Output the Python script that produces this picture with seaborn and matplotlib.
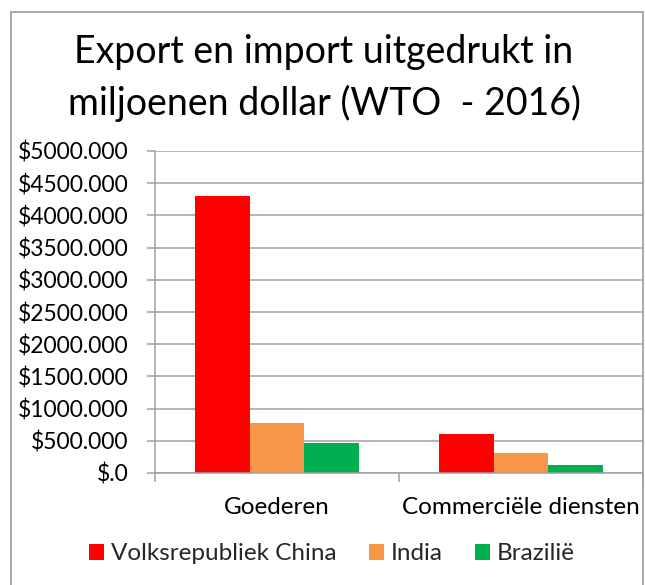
import matplotlib
matplotlib.use("Agg")
import matplotlib.pyplot as plt
from matplotlib.patches import Rectangle
from matplotlib.ticker import FixedLocator
import seaborn as sns
import pandas as pd

# ---- data ----
categories = ["Goederen", "Commerciële diensten"]
countries = ["Volksrepubliek China", "India", "Brazilië"]
china = [4300, 610]
india = [780, 305]
brazil = [460, 125]
colors = ["#FF0000", "#F79646", "#00B050"]
ytick_values = [0, 500, 1000, 1500, 2000, 2500, 3000, 3500, 4000, 4500, 5000]
ytick_labels = ["$.0", "$500.000", "$1000.000", "$1500.000", "$2000.000", "$2500.000",
                "$3000.000", "$3500.000", "$4000.000", "$4500.000", "$5000.000"]
title = "Export en import uitgedrukt in\nmiljoenen dollar (WTO  - 2016)"

rows = []
for name, vals in zip(countries, [china, india, brazil]):
    for c, v in zip(categories, vals):
        rows.append({"categorie": c, "land": name, "waarde": v})
df = pd.DataFrame(rows)

sns.set_theme(style="white")
plt.rcParams["font.family"] = ["Lato", "DejaVu Sans"]

W, H = 645, 585
fig = plt.figure(figsize=(W / 100, H / 100), dpi=100)
ax = fig.add_axes([155 / W, 1 - 473 / H, (643 - 155) / W, (473 - 151) / H])

grid_col = "#A0A0A0"
sns.barplot(data=df, x="categorie", y="waarde", hue="land", hue_order=countries,
            order=categories, palette=colors, width=0.67, ax=ax, saturation=1,
            edgecolor="none", linewidth=0, legend=True)

ax.set_xlim(-0.5, 1.5)
ax.set_ylim(0, 5000)
ax.set_yticks(ytick_values)
ax.set_yticklabels(ytick_labels)
ax.yaxis.grid(True, color=grid_col, linewidth=1.1)
ax.set_axisbelow(True)
ax.set_xlabel("")
ax.set_ylabel("")
for s in ["top", "right"]:
    ax.spines[s].set_visible(False)
for s in ["left", "bottom"]:
    ax.spines[s].set_color(grid_col)
    ax.spines[s].set_linewidth(1.1)

ax.tick_params(axis="y", which="major", length=5.8, width=1.1, color=grid_col,
               pad=13.5, labelsize=16.5, labelcolor="black", left=True)
ax.tick_params(axis="x", which="major", length=0, pad=17, labelsize=17.5,
               labelcolor="black")
ax.xaxis.set_minor_locator(FixedLocator([-0.5, 0.5, 1.5]))
ax.tick_params(axis="x", which="minor", length=6.5, width=1.1, color=grid_col,
               bottom=True)

handles, labels = ax.get_legend_handles_labels()
ax.get_legend().remove()
fig.legend(handles, labels, loc="center", bbox_to_anchor=(332 / W, 1 - 554 / H),
           ncol=3, frameon=False, fontsize=17.5, handlelength=0.62, handleheight=0.62,
           handletextpad=0.3, columnspacing=1.3, borderaxespad=0, borderpad=0)

fig.text(324 / W, 1 - 78 / H, title, ha="center", va="center", fontsize=27,
         linespacing=1.5, color="black")

fig.patches.append(Rectangle((11 / W, -0.05), (643 - 11) / W, 1.05 - 12 / H,
                             transform=fig.transFigure, fill=False,
                             edgecolor="#A0A0A0", linewidth=1.3, clip_on=False))

fig.savefig("out.png", dpi=100, facecolor="white")
